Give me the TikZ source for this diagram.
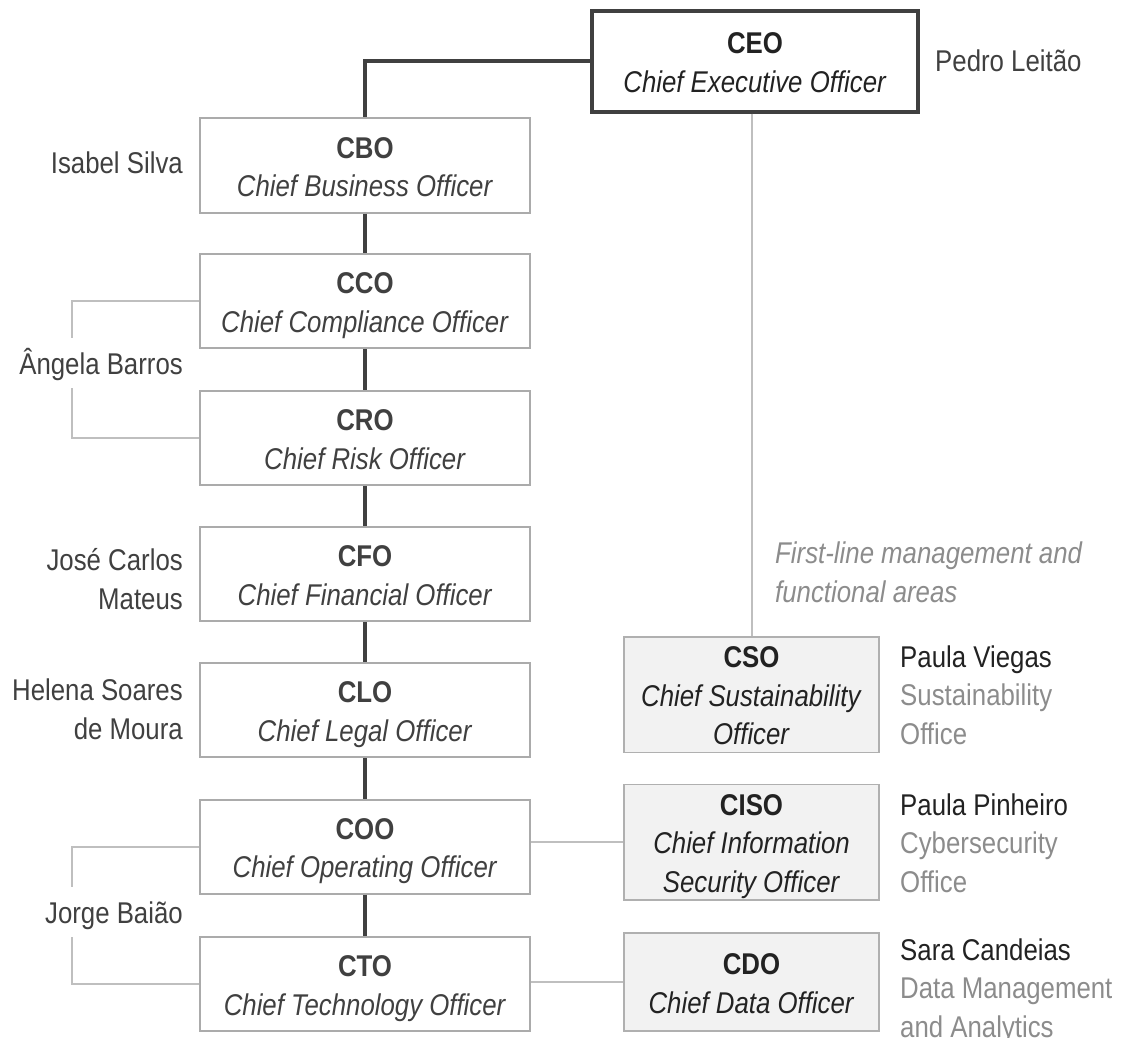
\documentclass[tikz,border=0pt]{standalone}
\usepackage{fontspec}
\setmainfont{Liberation Sans}[FakeStretch=0.86]

\definecolor{linedark}{HTML}{404040}
\definecolor{boxgray}{HTML}{ABABAB}
\definecolor{lightline}{HTML}{BFBFBF}
\definecolor{areafill}{HTML}{F2F2F2}
\definecolor{areagray}{HTML}{B0B0B0}
\definecolor{txtdark}{HTML}{404040}
\definecolor{txtblack}{HTML}{222222}
\definecolor{subgray}{HTML}{8C8C8C}

% every text line gets the same height and depth
\newcommand\lnstrut{\rule[-7.5pt]{0pt}{38.5pt}}
\newcommand\chartfont{\fontsize{30}{38.5}\selectfont}

\begin{document}
\begin{tikzpicture}[x=1pt, y=-1pt,
  every node/.style={font=\chartfont, inner sep=0pt},
  rolebox/.style={draw=boxgray, line width=2pt, minimum width=330pt,
    minimum height=94pt, align=center, text=txtdark},
  ceobox/.style={draw=linedark, line width=3.5pt, minimum width=326pt,
    minimum height=101pt, align=center, text=txtblack},
  areabox/.style={fill=areafill, draw=areagray, line width=1.5pt,
    minimum width=255pt, align=center, text=txtblack},
  person/.style={anchor=east, align=right, text=txtdark},
  holder/.style={anchor=west, align=left, text=subgray},
  chain/.style={draw=linedark, line width=4pt},
  thinlink/.style={draw=lightline, line width=2pt}]

\useasboundingbox (0,0) rectangle (1122,1038);

% executive board
\node[ceobox] (ceo) at (755,61.5)
  {\lnstrut\textbf{CEO}\\\lnstrut\textit{Chief Executive Officer}};
\node[anchor=west, text=txtdark] (pedro) at (935,60) {\lnstrut Pedro Leitão};

\node[rolebox] (cbo) at (365,165.5)
  {\lnstrut\textbf{CBO}\\\lnstrut\textit{Chief Business Officer}};
\node[rolebox] (cco) at (365,301)
  {\lnstrut\textbf{CCO}\\\lnstrut\textit{Chief Compliance Officer}};
\node[rolebox] (cro) at (365,438)
  {\lnstrut\textbf{CRO}\\\lnstrut\textit{Chief Risk Officer}};
\node[rolebox] (cfo) at (365,574)
  {\lnstrut\textbf{CFO}\\\lnstrut\textit{Chief Financial Officer}};
\node[rolebox] (clo) at (365,710)
  {\lnstrut\textbf{CLO}\\\lnstrut\textit{Chief Legal Officer}};
\node[rolebox] (coo) at (365,846.5)
  {\lnstrut\textbf{COO}\\\lnstrut\textit{Chief Operating Officer}};
\node[rolebox] (cto) at (365,984)
  {\lnstrut\textbf{CTO}\\\lnstrut\textit{Chief Technology Officer}};

% board members
\node[person] (isabel) at (183,162) {\lnstrut Isabel Silva};
\node[person, minimum height=50pt] (angela) at (183,363) {\lnstrut Ângela Barros};
\node[person] (jose) at (183,578) {\lnstrut José Carlos\\\lnstrut Mateus};
\node[person] (helena) at (183,708) {\lnstrut Helena Soares\\\lnstrut de Moura};
\node[person, minimum height=50pt] (jorge) at (183,912) {\lnstrut Jorge Baião};

% first-line management
\node[anchor=west, align=left, text=subgray, font=\chartfont\itshape] (firstline) at (775,571)
  {\lnstrut First-line management and\\\lnstrut functional areas};

\node[areabox, minimum height=113pt] (cso) at (751.5,694.5)
  {\lnstrut\textbf{CSO}\\\lnstrut\textit{Chief Sustainability}\\\lnstrut\textit{Officer}};
\node[areabox, minimum height=114pt] (ciso) at (751.5,842)
  {\lnstrut\textbf{CISO}\\\lnstrut\textit{Chief Information}\\\lnstrut\textit{Security Officer}};
\node[areabox, minimum height=98pt] (cdo) at (751.5,982)
  {\lnstrut\textbf{CDO}\\\lnstrut\textit{Chief Data Officer}};

\node[holder] (viegas) at (900,694)
  {\lnstrut\textcolor{txtblack}{Paula Viegas}\\\lnstrut Sustainability\\\lnstrut Office};
\node[holder] (pinheiro) at (900,842)
  {\lnstrut\textcolor{txtblack}{Paula Pinheiro}\\\lnstrut Cybersecurity\\\lnstrut Office};
\node[holder] (candeias) at (900,987)
  {\lnstrut\textcolor{txtblack}{Sara Candeias}\\\lnstrut Data Management\\\lnstrut and Analytics};

% reporting lines
\draw[chain] (ceo.west) -| (cbo.north);
\draw[chain] (cbo.south) -- (cco.north);
\draw[chain] (cco.south) -- (cro.north);
\draw[chain] (cro.south) -- (cfo.north);
\draw[chain] (cfo.south) -- (clo.north);
\draw[chain] (clo.south) -- (coo.north);
\draw[chain] (coo.south) -- (cto.north);

\draw[thinlink] (ceo.south -| cso.north) -- (cso.north);
\draw[thinlink] (coo.east |- ciso.west) -- (ciso.west);
\draw[thinlink] (cto.east |- cdo.west) -- (cdo.west);

% shared roles
\coordinate (bar) at (72,0);
\draw[thinlink] (cco.west) -| (bar |- angela.north);
\draw[thinlink] (cro.west) -| (bar |- angela.south);
\draw[thinlink] (coo.west) -| (bar |- jorge.north);
\draw[thinlink] (cto.west) -| (bar |- jorge.south);
\end{tikzpicture}
\end{document}
